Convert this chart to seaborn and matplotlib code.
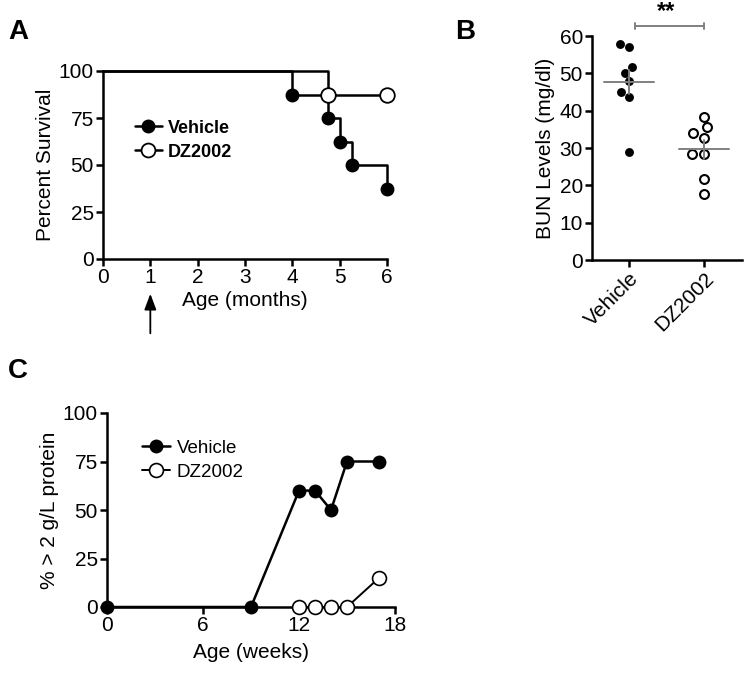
import numpy as np
import pandas as pd
import matplotlib
matplotlib.use("Agg")
import matplotlib.pyplot as plt
import seaborn as sns

sns.set_theme(style="ticks")
plt.rcParams['font.family'] = ['Liberation Sans', 'DejaVu Sans']
plt.rcParams.update({"text.color": "black", "axes.labelcolor": "black",
                     "xtick.color": "black", "ytick.color": "black"})

# Panel A - survival (months)
veh_surv_t = [0, 4, 4, 4.75, 4.75, 5, 5, 5.25, 5.25, 6, 6]
veh_surv_p = [100, 100, 87.5, 87.5, 75, 75, 62.5, 62.5, 50, 50, 37.5]
veh_event_t = [4, 4.75, 5, 5.25, 6]
veh_event_p = [87.5, 75, 62.5, 50, 37.5]
dz_surv_t = [0, 4.75, 4.75, 6]
dz_surv_p = [100, 100, 87.5, 87.5]
dz_event_t = [4.75, 6]
dz_event_p = [87.5, 87.5]

# Panel B - BUN levels
bun_vehicle = [57.0, 57.9, 51.7, 50.1, 47.9, 44.9, 43.6, 28.9]
bun_dz2002 = [38.3, 35.5, 33.9, 32.7, 28.5, 28.5, 21.8, 17.8]
groups = ["Vehicle", "DZ2002"]

# Panel C - proteinuria (weeks)
veh_weeks = [0, 9, 12, 13, 14, 15, 17]
veh_prot = [0, 0, 60, 60, 50, 75, 75]
dz_weeks = [12, 13, 14, 15, 17]
dz_prot = [0, 0, 0, 0, 15]

W, H = 749, 673
fig = plt.figure(figsize=(W / 100, H / 100), dpi=100)


def px_axes(left, top, right, bottom):
    return fig.add_axes([left / W, 1 - bottom / H, (right - left) / W, (bottom - top) / H])


def style(ax):
    sns.despine(ax=ax)
    for s in ["left", "bottom"]:
        ax.spines[s].set_linewidth(1.8)
        ax.spines[s].set_color("black")
    ax.tick_params(width=1.8, length=5, labelsize=15, color="black", pad=1.5)


# ---------- A ----------
axA = px_axes(103, 71, 387, 259)
sns.lineplot(x=veh_surv_t, y=veh_surv_p, ax=axA, color="black", lw=1.8,
             estimator=None, sort=False)
sns.lineplot(x=dz_surv_t, y=dz_surv_p, ax=axA, color="black", lw=1.8,
             estimator=None, sort=False)
axA.plot(veh_event_t, veh_event_p, "o", color="black", ms=9, zorder=5)
axA.plot(dz_event_t, dz_event_p, "o", mfc="white", mec="black", mew=1.3, ms=10.5, zorder=5)
for ln in axA.lines:
    ln.set_clip_on(False)
axA.set_xlim(0, 6)
axA.set_ylim(0, 100)
axA.set_xticks(range(7))
axA.set_yticks([0, 25, 50, 75, 100])
axA.set_xlabel("Age (months)", fontsize=15, labelpad=3)
axA.set_ylabel("Percent Survival", fontsize=15, labelpad=3)
style(axA)
hA = [plt.Line2D([], [], color="black", lw=1.8, marker="o", ms=9),
      plt.Line2D([], [], color="black", lw=1.8, marker="o", ms=10, mfc="white", mew=1.3)]
axA.legend(hA, ["Vehicle", "DZ2002"], loc="upper left", bbox_to_anchor=(0.08, 0.79),
           frameon=False, prop={"weight": "bold", "size": 13},
           handlelength=1.5, handletextpad=0.35, labelspacing=0.4, borderpad=0)
axA.annotate("", xy=(1, -0.17), xycoords=("data", "axes fraction"),
             xytext=(1, -0.41), textcoords=("data", "axes fraction"),
             arrowprops=dict(arrowstyle="-|>,head_width=0.3,head_length=0.8",
                             color="black", lw=1.3), annotation_clip=False)
fig.text(8 / W, 1 - 32 / H, "A", fontsize=20, fontweight="bold", va="center")

# ---------- B ----------
axB = px_axes(592, 36, 742, 260)
bun = pd.DataFrame({"group": ["Vehicle"] * len(bun_vehicle) + ["DZ2002"] * len(bun_dz2002),
                    "bun": bun_vehicle + bun_dz2002})
sns.swarmplot(data=bun[bun.group == "Vehicle"], x="group", y="bun", order=groups,
              ax=axB, color="black", size=6.4, linewidth=0)
sns.swarmplot(data=bun[bun.group == "DZ2002"], x="group", y="bun", order=groups,
              ax=axB, color="white", edgecolor="black", linewidth=1.5, size=6.4)
for i, vals in enumerate([bun_vehicle, bun_dz2002]):
    m = np.mean(vals)
    se = np.std(vals, ddof=1) / np.sqrt(len(vals))
    axB.plot([i - 0.33, i + 0.33], [m, m], color="#808080", lw=1.4, zorder=6)
    axB.plot([i, i], [m - se, m + se], color="#808080", lw=1.4, zorder=6)
axB.plot([0.08, 1], [62.7, 62.7], color="#808080", lw=1.4, clip_on=False)
axB.plot([0.08, 0.08], [61.8, 63.6], color="#808080", lw=1.4, clip_on=False)
axB.plot([1, 1], [61.8, 63.6], color="#808080", lw=1.4, clip_on=False)
axB.text(0.5, 63.4, "**", ha="center", va="bottom", fontsize=17, fontweight="bold")
axB.set_xlim(-0.49, 1.51)
axB.set_ylim(0, 60)
axB.set_yticks(range(0, 61, 10))
axB.set_xlabel("")
axB.set_ylabel("BUN Levels (mg/dl)", fontsize=15, labelpad=3)
style(axB)
axB.tick_params(axis="x", labelrotation=45)
for lab in axB.get_xticklabels():
    lab.set_ha("right")
    lab.set_rotation_mode("anchor")
fig.text(455 / W, 1 - 32 / H, "B", fontsize=20, fontweight="bold", va="center")

# ---------- C ----------
axC = px_axes(107, 413, 395, 607)
sns.lineplot(x=veh_weeks, y=veh_prot, ax=axC, color="black", lw=1.8, marker="o",
             markersize=10, markeredgewidth=0, estimator=None, zorder=5, clip_on=False,
             label="Vehicle")
sns.lineplot(x=dz_weeks, y=dz_prot, ax=axC, color="black", lw=1.4, marker="o",
             markersize=10, markerfacecolor="white", markeredgecolor="black",
             markeredgewidth=1.2, estimator=None, zorder=5, clip_on=False, label="DZ2002")
axC.set_xlim(0, 18)
axC.set_ylim(0, 100)
axC.set_xticks([0, 6, 12, 18])
axC.set_yticks([0, 25, 50, 75, 100])
axC.set_xlabel("Age (weeks)", fontsize=15, labelpad=6)
axC.set_ylabel("% > 2 g/L protein", fontsize=15, labelpad=3)
style(axC)
axC.legend(loc="upper left", bbox_to_anchor=(0.09, 0.91), frameon=False, fontsize=13.5,
           handlelength=1.5, handletextpad=0.35, labelspacing=0.35, borderpad=0)
fig.text(8 / W, 1 - 371 / H, "C", fontsize=20, fontweight="bold", va="center")

fig.savefig("out.png", dpi=100)
